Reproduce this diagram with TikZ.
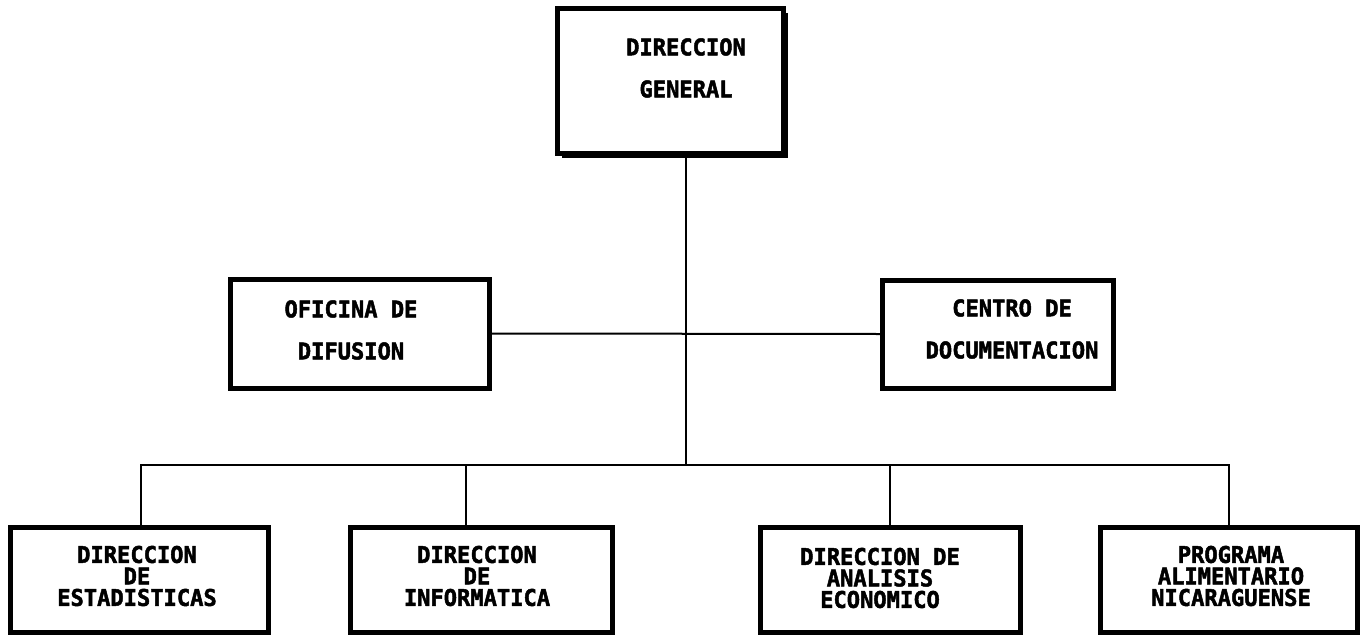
\documentclass[tikz,border=0pt]{standalone}
\usepackage{fontspec}
\newfontfamily\orgfont[FakeStretch=0.96,FakeBold=2]{DejaVu Sans Mono}
\usetikzlibrary{shadows}
\tikzset{
    unitbox/.style={draw, line width=5pt, fill=white, inner sep=0pt},
    unittext/.style={align=center, inner sep=0pt, font=\orgfont\bfseries\fontsize{23}{42}\selectfont},
    subtext/.style={unittext, font=\orgfont\bfseries\fontsize{23}{21.5}\selectfont},
    link/.style={line width=2pt}
}
\begin{document}
\begin{tikzpicture}[x=1pt,y=-1pt]
        \useasboundingbox (0,0) rectangle (1361,635);
        %% Boxes
        \node[unitbox, minimum width=226pt, minimum height=145pt,
              drop shadow={shadow xshift=5pt, shadow yshift=-5pt, fill=black, opacity=1}] (dg) at (670,80.5) {};
        \node[unitbox, minimum width=259pt, minimum height=109pt] (ofi) at (360,333.5) {};
        \node[unitbox, minimum width=231pt, minimum height=108pt] (cen) at (998,334) {};
        \node[unitbox, minimum width=258pt, minimum height=105pt] (est) at (139,579.5) {};
        \node[unitbox, minimum width=262pt, minimum height=105pt] (inf) at (481,579.5) {};
        \node[unitbox, minimum width=260pt, minimum height=105pt] (ana) at (890,579.5) {};
        \node[unitbox, minimum width=257pt, minimum height=105pt] (pan) at (1228.5,579.5) {};
        %% Texts
        \node[unittext] (dgt) at (686,68) {DIRECCION\\GENERAL};
        \node[unittext] (ofit) at (351,330) {OFICINA DE\\DIFUSION};
        \node[unittext] (cent) at (1012,329) {CENTRO DE\\DOCUMENTACION};
        \node[subtext] (estt) at (137,576) {DIRECCION\\DE\\ESTADISTICAS};
        \node[subtext] (inft) at (477,576) {DIRECCION\\DE\\INFORMATICA};
        \node[subtext] (anat) at (880,578) {DIRECCION DE\\ANALISIS\\ECONOMICO};
        \node[subtext] (pant) at (1231,576) {PROGRAMA\\ALIMENTARIO\\NICARAGUENSE};
        %% Lines
        \coordinate (bus) at (686,465);
        \draw[link] ([xshift=16pt]dg.south) -- (bus);
        \draw[link] (ofi.east) -- (cen.west);
        \draw[link] ([xshift=2pt]est.north) -- ([xshift=2pt]est.north |- bus) -- (pan.north |- bus) -- (pan.north);
        \draw[link] ([xshift=-15pt]inf.north) -- ([xshift=-15pt]inf.north |- bus);
        \draw[link] (ana.north) -- (ana.north |- bus);
    \end{tikzpicture}
\end{document}
